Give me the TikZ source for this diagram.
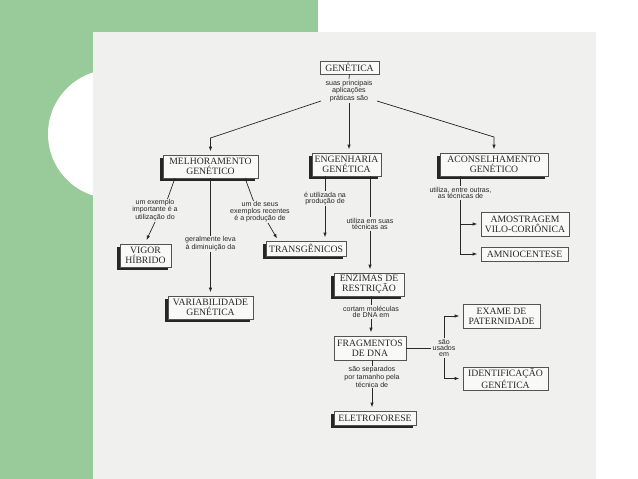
\documentclass[tikz,border=0pt]{standalone}
\usepackage{fontspec}
\setmainfont{Liberation Serif}
\newfontfamily\labfont{Liberation Sans}
\usetikzlibrary{arrows.meta,shadows,calc}
\definecolor{bggreen}{RGB}{153,202,153}
\definecolor{paper}{RGB}{240,240,238}
\definecolor{ink}{RGB}{40,40,40}
\tikzset{
  box/.style={draw=ink!80, line width=0.6pt, fill=paper!40!white, inner sep=0pt, align=center,
    font=\fontsize{9.7}{9.9}\selectfont, text=ink},
  sbox/.style={box, drop shadow={shadow xshift=-2.6pt, shadow yshift=-2.6pt, fill=black!85, opacity=1}},
  lab/.style={inner sep=1pt, align=center, font=\labfont\fontsize{7.1}{6.4}\selectfont, text=ink},
  conn/.style={draw=ink, line width=0.7pt},
  arr/.style={conn, -{Latex[length=4.5pt,width=3.4pt]}, shorten >=3.5pt},
  arrfree/.style={conn, -{Latex[length=4.5pt,width=3.4pt]}},
}
\begin{document}
\begin{tikzpicture}[x=1pt,y=-1pt]
\useasboundingbox (0,0) rectangle (638,479);
% background
\fill[white] (0,0) rectangle (638,479);
\fill[bggreen] (0,0) rectangle (318,479);
\fill[white] (112.5,134) circle (64.5);
\fill[paper] (93,32) rectangle (596,479);

% boxes
\node[box, minimum width=59, minimum height=13] (gen) at (349.5,67.5) {GENÉTICA};
\node[sbox, minimum width=95, minimum height=23] (melh) at (210.5,166.5) {MELHORAMENTO\\GENÉTICO};
\node[sbox, minimum width=69, minimum height=23] (eng) at (346.5,164.5) {ENGENHARIA\\GENÉTICA};
\node[sbox, minimum width=108, minimum height=23] (acon) at (494,164.5) {ACONSELHAMENTO\\GENÉTICO};
\node[sbox, minimum width=51, minimum height=23] (vigor) at (145.5,255.5) {VIGOR\\HÍBRIDO};
\node[sbox, minimum width=85, minimum height=23] (var) at (210.5,307.5) {VARIABILIDADE\\GENÉTICA};
\node[sbox, minimum width=80, minimum height=15] (trans) at (306,248.5) {TRANSGÊNICOS};
\node[sbox, minimum width=70, minimum height=23] (enz) at (369,284.5) {ENZIMAS DE\\RESTRIÇÃO};
\node[box, minimum width=88, minimum height=24] (amo) at (525,224) {AMOSTRAGEM\\VILO-CORIÔNICA};
\node[box, minimum width=87, minimum height=14] (amn) at (524.5,254) {AMNIOCENTESE};
\node[box, minimum width=77, minimum height=24] (exame) at (501.5,316) {EXAME DE\\PATERNIDADE};
\node[box, minimum width=85, minimum height=23] (ident) at (505.5,378.5) {IDENTIFICAÇÃO\\GENÉTICA};
\node[box, minimum width=72, minimum height=24] (frag) at (370,348) {FRAGMENTOS\\DE DNA};
\node[sbox, minimum width=82, minimum height=14] (ele) at (375,418) {ELETROFORESE};

% labels
\node[lab] (lab0) at (349,91) {suas principais\\aplicações\\práticas são};
\node[lab] (labex) at (155,210) {um exemplo\\importante é a\\utilização do};
\node[lab] (labger) at (210.5,244) {geralmente leva\\à diminuição da};
\node[lab] (labum) at (260,212) {um de seus\\exemplos recentes\\é a produção de};
\node[lab] (labutil) at (325,198.5) {é utilizada na\\produção de};
\node[lab] (labtec) at (370,224) {utiliza em suas\\técnicas as};
\node[lab] (labac) at (460.5,193) {utiliza, entre outras,\\as técnicas de};
\node[lab] (labcor) at (371,312) {cortam moléculas\\de DNA em};
\node[lab] (labsao) at (444,348) {são\\usados\\em};
\node[lab] (labsep) at (372,377) {são separados\\por tamanho pela\\técnica de};

% connector points
\coordinate (s1) at (321,101);
\coordinate (c1) at (210.5,138);
\coordinate (s3) at (377,101);
\coordinate (c3) at (494,137);
\coordinate (m1) at (175,178);
\coordinate (m1e) at (167.5,199);
\coordinate (v1) at (155,222);
\coordinate (v1e) at (146.5,240);
\coordinate (m3) at (245,178);
\coordinate (m3e) at (253.5,201);
\coordinate (t1) at (268,223);
\coordinate (t1e) at (277,238.5);

% connectors
\draw[conn] (gen.south) -- (lab0.north);
\draw[arr] (s1) -- (c1) -- (melh.north);
\draw[arr] (lab0.south) -- (lab0.south |- eng.north);
\draw[arr] (s3) -- (c3) -- (acon.north);

\draw[conn] (m1) -- (m1e);
\draw[arrfree] (v1) -- (v1e);
\draw[conn] (melh.south) -- (labger.north);
\draw[arr] (labger.south) -- (var.north);
\draw[conn] (m3) -- (m3e);
\draw[arrfree] (t1) -- (t1e);

\draw[conn] (eng.south -| labutil) -- (labutil.north);
\draw[arr] (labutil.south) -- (labutil.south |- trans.north);
\draw[conn] (eng.south -| labtec) -- (labtec.north);
\draw[arr] (labtec.south) -- (labtec.south |- enz.north);

\draw[conn] (acon.south -| labac) -- (labac.north);
\draw[arr] (labac.south) -- (labac.south |- amn.west) -- (amn.west);
\draw[arr] (labac.south |- amo.west) -- (amo.west);

\draw[conn] (enz.south -| labcor) -- (labcor.north);
\draw[arr] (labcor.south) -- (labcor.south |- frag.north);

\draw[conn] (frag.east) -- (labsao.west);
\draw[arr] (labsao.north) -- (labsao.north |- exame.west) -- (exame.west);
\draw[arr] (labsao.south) -- (labsao.south |- ident.west) -- (ident.west);

\draw[conn] (frag.south -| labsep) -- (labsep.north);
\draw[arr] (labsep.south) -- (labsep.south |- ele.north);
\end{tikzpicture}
\end{document}
